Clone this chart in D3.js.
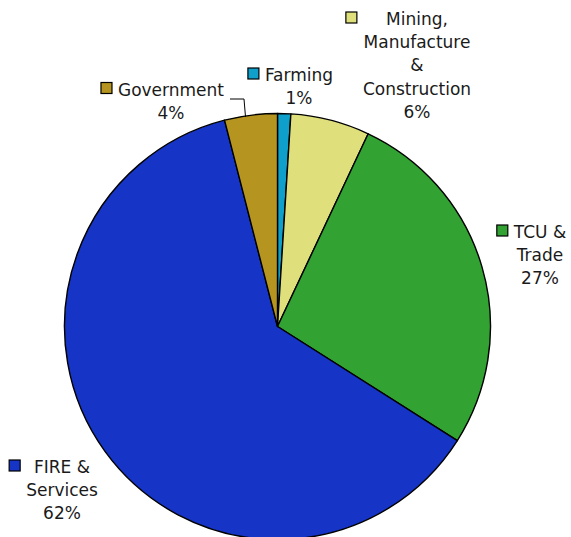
<!DOCTYPE html>
<html>
<head>
<meta charset="utf-8">
<script src="https://cdn.jsdelivr.net/npm/d3@7"></script>
<style>
  html, body { margin: 0; padding: 0; background: #fff; }
  svg { display: block; }
  text { font-family: "DejaVu Sans", Verdana, sans-serif; font-size: 17px; fill: #1a1a1a; }
</style>
</head>
<body>
<svg id="chart" width="571" height="537"></svg>
<script>
// Sector shares of employment (percent), clockwise from 12 o'clock
const categories = ["Farming", "Mining, Manufacture & Construction", "TCU & Trade", "FIRE & Services", "Government"];
const shares = [1, 6, 27, 62, 4];
const labelLines = [
  ["Farming"],
  ["Mining,", "Manufacture", "&", "Construction"],
  ["TCU &", "Trade"],
  ["FIRE &", "Services"],
  ["Government"]
];
const colors = ["#0e9fcb", "#dfe07c", "#32a332", "#1634c6", "#b5951f"];

// Label block placement: centre x and first baseline y
const labelAnchors = [
  { x: 299, y: 81 },
  { x: 417, y: 25 },
  { x: 540, y: 238 },
  { x: 62, y: 473 },
  { x: 171, y: 95.5 }
];
const lineStep = 23.2;

const svg = d3.select("#chart");
const cx = 277.5, cy = 326.5, radius = 213;

const pie = d3.pie().sort(null).value(d => d)
  .startAngle(0).endAngle(2 * Math.PI);
const arcs = pie(shares);
const arc = d3.arc().innerRadius(0).outerRadius(radius);
const color = d3.scaleOrdinal().domain(categories).range(colors);

const g = svg.append("g").attr("transform", `translate(${cx},${cy})`);
g.selectAll("path.slice")
  .data(arcs)
  .join("path")
  .attr("class", "slice")
  .attr("d", arc)
  .attr("fill", (d, i) => color(categories[i]))
  .attr("stroke", "#000")
  .attr("stroke-width", 1.4)
  .attr("stroke-linejoin", "round");

// Leader line from the Government label to its slice
const govArc = arcs[4];
const govMid = govArc.startAngle + (govArc.endAngle - govArc.startAngle) * 0.4;
const edge = [cx + radius * Math.sin(govMid), cy - radius * Math.cos(govMid)];
svg.append("path")
  .attr("d", d3.line()([[230, 99], [244, 99], [edge[0], edge[1] + 1]]))
  .attr("fill", "none")
  .attr("stroke", "#000")
  .attr("stroke-width", 1);

// Data labels with legend keys
const fmt = d => `${d}%`;
categories.forEach((cat, i) => {
  const a = labelAnchors[i];
  const lines = labelLines[i].concat([fmt(shares[i])]);
  const grp = svg.append("g");
  const texts = grp.selectAll("text")
    .data(lines)
    .join("text")
    .attr("x", a.x)
    .attr("y", (d, k) => a.y + k * lineStep)
    .attr("text-anchor", "middle")
    .text(d => d);
  let maxW = 0;
  texts.each(function () { maxW = Math.max(maxW, this.getComputedTextLength()); });
  const left = a.x - maxW / 2;
  const ks = 11;
  grp.append("rect")
    .attr("x", left - 6 - ks)
    .attr("y", a.y - 7.5 - ks / 2)
    .attr("width", ks)
    .attr("height", ks)
    .attr("fill", color(cat))
    .attr("stroke", "#000")
    .attr("stroke-width", 1.2);
});
</script>
</body>
</html>
